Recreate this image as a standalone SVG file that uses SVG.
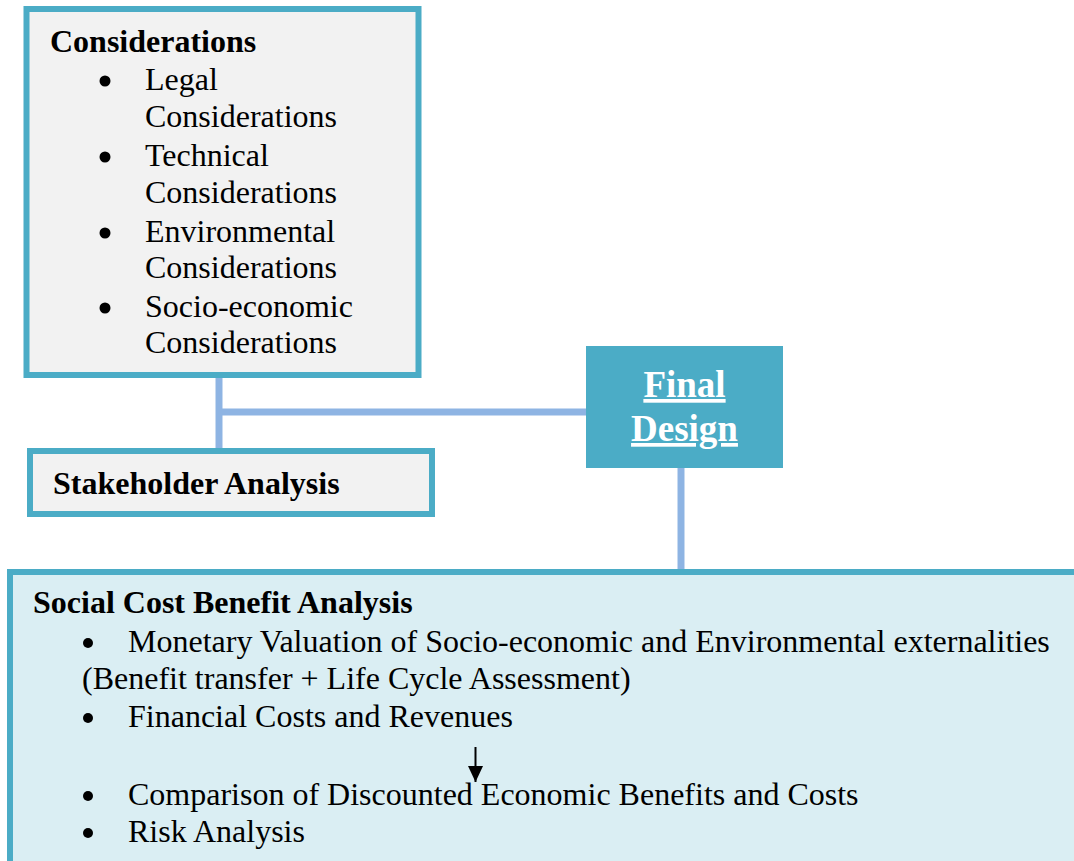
<svg xmlns="http://www.w3.org/2000/svg" width="1074" height="861" viewBox="0 0 1074 861">
<style>
.box{stroke:#4BACC6;stroke-width:6}
.t{font-family:"Liberation Serif","Times New Roman",serif;font-size:32px;fill:#000}
.b{font-weight:bold}
.conn{stroke:#8EB4E3;stroke-width:7;fill:none}
.fd{font-family:"Liberation Serif","Times New Roman",serif;font-size:37px;font-weight:bold;fill:#fff;text-decoration:underline}
</style>
<defs>
<marker id="ah" markerWidth="16" markerHeight="15" refX="16" refY="7.5" orient="auto" markerUnits="userSpaceOnUse" viewBox="0 0 16 15">
<path d="M0,0 L16,7.5 L0,15 z" fill="#000"/>
</marker>
</defs>
<rect width="1074" height="861" fill="#fff"/>
<g id="connectors">
<path class="conn" d="M219,376 V449"/>
<path class="conn" d="M219,412 H588"/>
<path class="conn" d="M681,467 V571"/>
</g>
<g id="considerations">
<rect class="box" x="26.5" y="9" width="392" height="366" fill="#F2F2F2"/>
<text class="t b" x="50" y="52">Considerations</text>
<circle cx="105" cy="81" r="5.5"/>
<text class="t" x="145" y="90">Legal</text>
<text class="t" x="145" y="127">Considerations</text>
<circle cx="105" cy="157" r="5.5"/>
<text class="t" x="145" y="166">Technical</text>
<text class="t" x="145" y="203">Considerations</text>
<circle cx="105" cy="233" r="5.5"/>
<text class="t" x="145" y="242">Environmental</text>
<text class="t" x="145" y="278">Considerations</text>
<circle cx="105" cy="308" r="5.5"/>
<text class="t" x="145" y="317">Socio-economic</text>
<text class="t" x="145" y="353">Considerations</text>
</g>
<g id="stakeholder">
<rect class="box" x="30" y="451" width="402" height="63" fill="#F2F2F2"/>
<text class="t b" x="53" y="494">Stakeholder Analysis</text>
</g>
<g id="final-design">
<rect x="586" y="346" width="197" height="122" fill="#4BACC6"/>
<text class="fd" x="684.5" y="397" text-anchor="middle">Final</text>
<text class="fd" x="684.5" y="441" text-anchor="middle">Design</text>
</g>
<g id="scba">
<rect class="box" x="10" y="572" width="1080" height="300" fill="#DAEEF3"/>
<text class="t b" x="33" y="613">Social Cost Benefit Analysis</text>
<circle cx="88" cy="643" r="5"/>
<text class="t" x="128" y="652">Monetary Valuation of Socio-economic and Environmental externalities</text>
<text class="t" x="82" y="689">(Benefit transfer + Life Cycle Assessment)</text>
<circle cx="88" cy="718" r="5"/>
<text class="t" x="128" y="727">Financial Costs and Revenues</text>
<path d="M475.5,747 V782" stroke="#000" stroke-width="2" marker-end="url(#ah)"/>
<circle cx="88" cy="796" r="5"/>
<text class="t" x="128" y="805">Comparison of Discounted Economic Benefits and Costs</text>
<circle cx="88" cy="833" r="5"/>
<text class="t" x="128" y="842">Risk Analysis</text>
</g>
</svg>
